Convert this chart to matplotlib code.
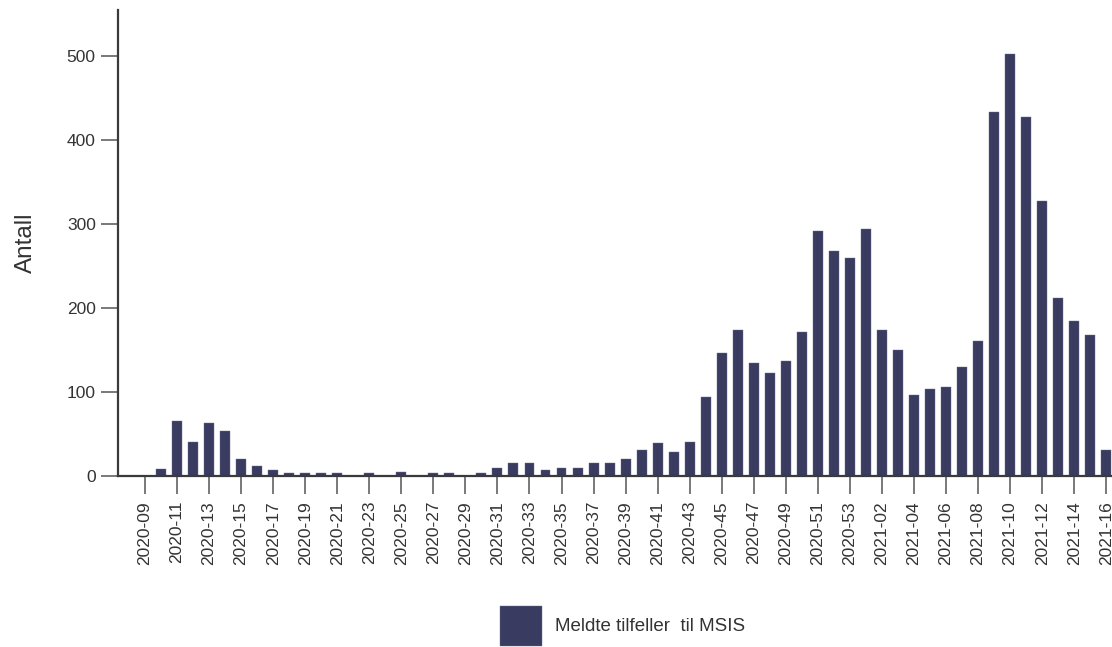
import matplotlib
matplotlib.use("Agg")
import matplotlib.pyplot as plt
from matplotlib.patches import Patch

plt.rcParams['font.family'] = ['Liberation Sans', 'DejaVu Sans']

weeks = ["2020-%02d" % w for w in range(9, 54)] + ["2021-%02d" % w for w in range(1, 17)]
cases = [0, 8, 66, 41, 63, 54, 20, 12, 7, 3, 3, 3, 3,
         0, 3, 0, 5, 0, 3, 3, 0, 3,
         10, 15, 15, 7, 10, 10, 15, 15, 20, 31, 39, 29, 41,
         94, 147, 174, 135, 123, 137, 171, 292, 268, 260, 294, 174, 150,
         97, 104, 106, 130, 161, 433, 503, 428, 327, 212, 185, 168, 31]
legend_label = "Meldte tilfeller  til MSIS"
bar_color = "#393b60"

fig = plt.figure(figsize=(11.12, 6.47), dpi=100)
ax = fig.add_axes([0.1061, 0.2643, 0.8939, 0.7202])

x = list(range(len(weeks)))
ax.bar(x, cases, width=0.62, color=bar_color, edgecolor="#6e7090", linewidth=0.3)

ax.set_xlim(-1.685, 60.36)
ax.set_ylim(0, 555)
ax.set_yticks([0, 100, 200, 300, 400, 500])
ax.set_xticks(x[::2])
ax.set_xticklabels(weeks[::2], rotation=90)

for side in ["top", "right"]:
    ax.spines[side].set_visible(False)
for side in ["left", "bottom"]:
    ax.spines[side].set_color("#3a3a3a")
    ax.spines[side].set_linewidth(1.6)

ax.tick_params(axis="y", length=12, width=1.1, color="#555555", pad=4,
               labelsize=12.5, labelcolor="#333333")
ax.tick_params(axis="x", length=13, width=1.1, color="#555555", pad=5,
               labelsize=12.5, labelcolor="#333333")

ax.set_ylabel("Antall", fontsize=17.5, color="#333333")
ax.yaxis.set_label_coords(-0.082, 0.5)

handle = Patch(facecolor=bar_color, edgecolor="#6e7090", linewidth=0.3)
fig.legend([handle], [legend_label], loc="center", bbox_to_anchor=(0.56, 0.033),
           frameon=False, fontsize=13.5, handlelength=2.2, handleheight=2.9,
           handletextpad=0.7, borderpad=0, labelcolor="#333333")

fig.savefig("out.png", dpi=100)
